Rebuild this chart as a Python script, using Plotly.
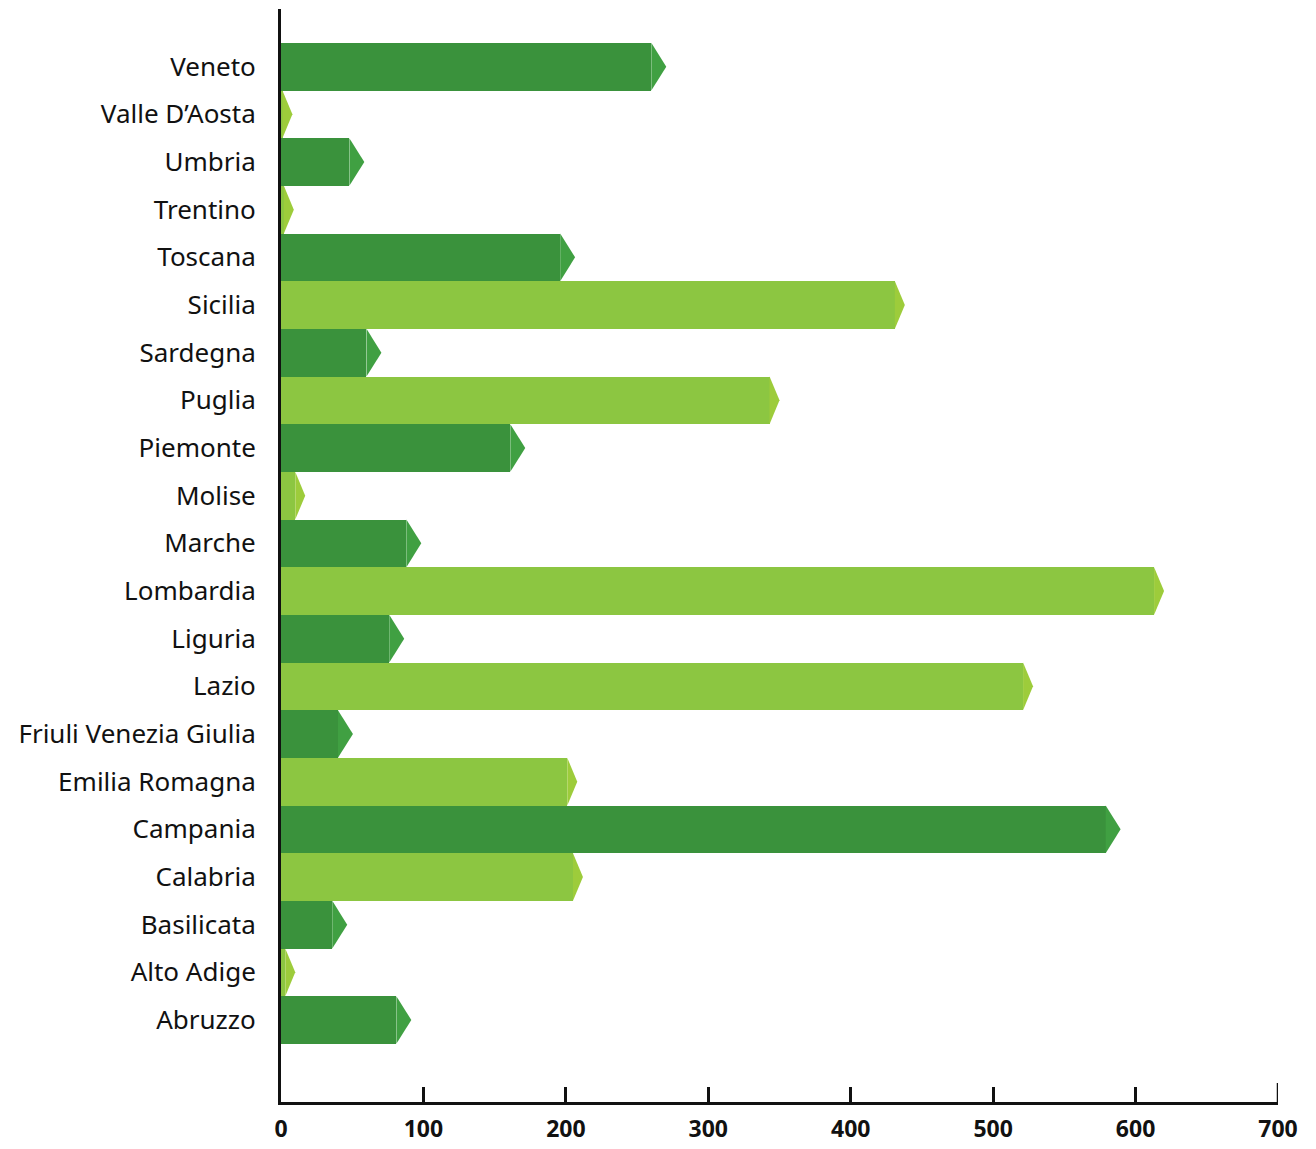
import plotly.graph_objects as go

regions = ["Abruzzo", "Alto Adige", "Basilicata", "Calabria", "Campania",
           "Emilia Romagna", "Friuli Venezia Giulia", "Lazio", "Liguria",
           "Lombardia", "Marche", "Molise", "Piemonte", "Puglia", "Sardegna",
           "Sicilia", "Toscana", "Trentino", "Umbria", "Valle D’Aosta", "Veneto"]
values = [81, 3, 36, 205, 579, 201, 40, 521, 76, 613, 88, 10, 161, 343, 60,
          431, 196, 2, 48, 1, 260]
x_ticks = [0, 100, 200, 300, 400, 500, 600, 700]

DARK, DARK_TIP = "#3a923c", "#40a042"
LIGHT, LIGHT_TIP = "#8cc641", "#9dcc3b"

idx = list(range(len(regions)))
bar_colors = [DARK if i % 2 == 0 else LIGHT for i in idx]

fig = go.Figure()
fig.add_trace(go.Bar(x=values, y=idx, orientation="h", width=1.0,
                     marker=dict(color=bar_colors, line=dict(width=0)),
                     hoverinfo="skip", showlegend=False))

# arrow tips (in data units derived from the values)
for i, v in zip(idx, values):
    w = 10.5 if i % 2 == 0 else 7.0
    col = DARK_TIP if i % 2 == 0 else LIGHT_TIP
    fig.add_trace(go.Scatter(x=[v, v + w, v, v], y=[i - 0.5, i, i + 0.5, i - 0.5],
                             mode="lines", fill="toself", fillcolor=col,
                             line=dict(width=0, color=col), hoverinfo="skip",
                             showlegend=False))

# longer end tick at the axis maximum
fig.add_shape(type="line", xref="x", yref="paper", x0=x_ticks[-1], x1=x_ticks[-1],
              y0=0, y1=19 / 1094, line=dict(color="#111", width=2.5))

fig.update_layout(
    width=1316, height=1149,
    margin=dict(l=273, r=46, t=1, b=55),
    plot_bgcolor="white", paper_bgcolor="white",
    bargap=0,
    xaxis=dict(range=[0, 700], tickvals=x_ticks, ticktext=[str(t) for t in x_ticks],
               showgrid=False, zeroline=False, showline=True, linecolor="#111",
               linewidth=2.5, ticks="inside", ticklen=15, tickwidth=2.5,
               tickcolor="#111", ticklabelstandoff=5, automargin=False,
               tickfont=dict(family="Noto Sans", size=23, color="#111", weight="bold")),
    yaxis=dict(range=[-1.72, 21.21], tickvals=idx, ticktext=regions,
               showgrid=False, zeroline=False, showline=True, linecolor="#111",
               linewidth=3, ticks="", ticklabelstandoff=17, automargin=False,
               tickfont=dict(family="Noto Sans", size=26, color="#111")),
)

fig.write_html("out.html")
